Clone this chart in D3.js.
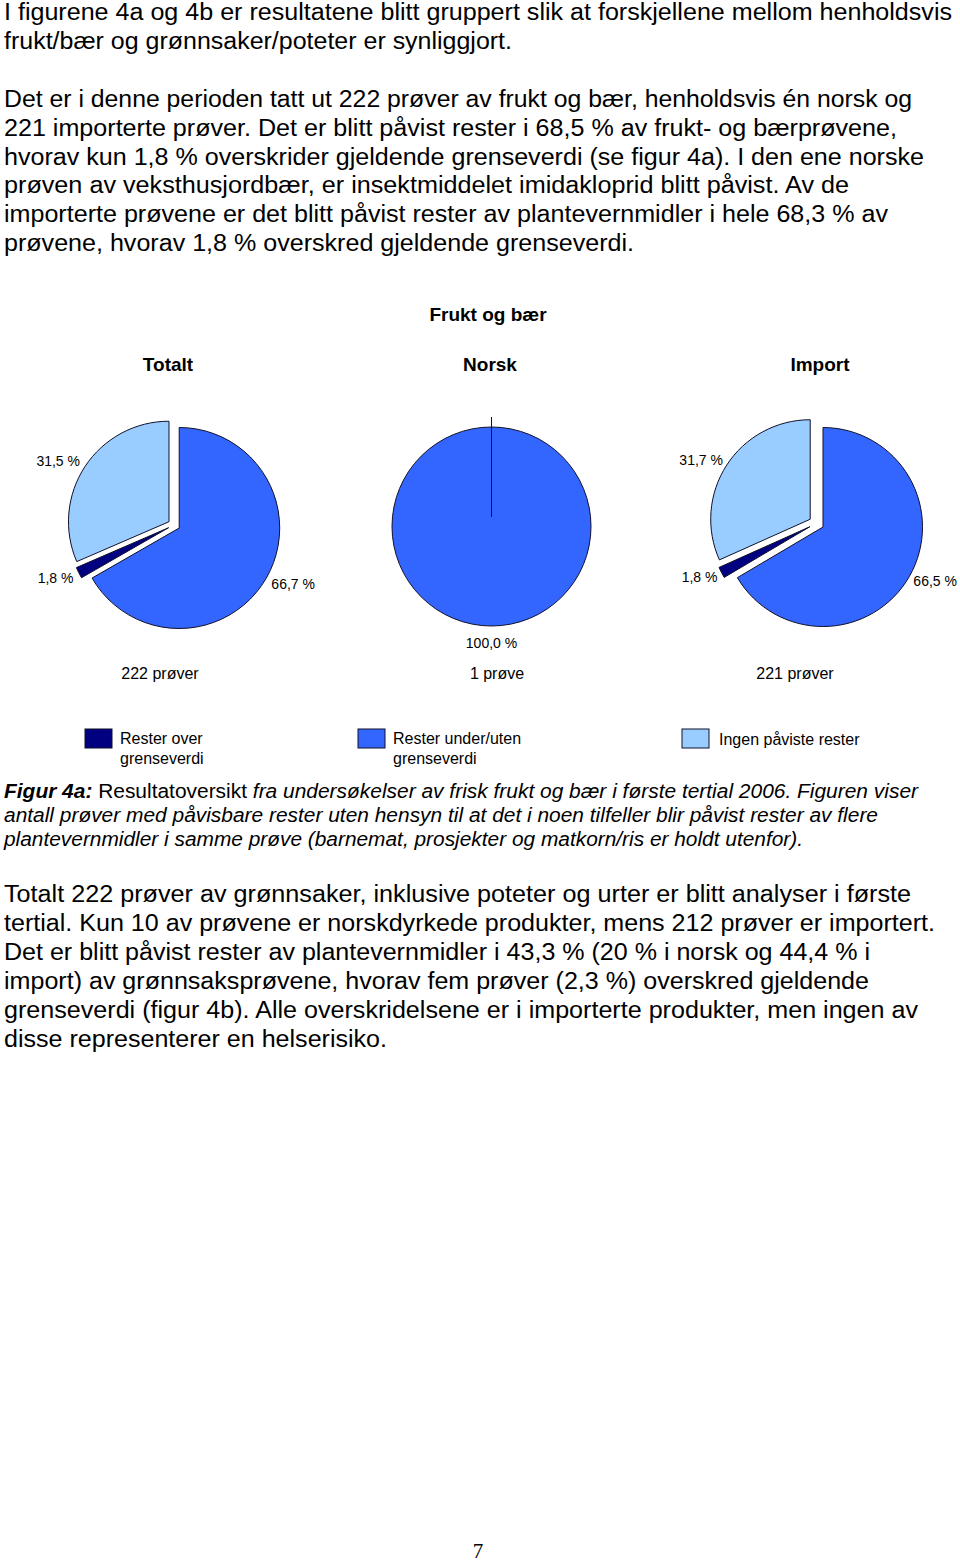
<!DOCTYPE html>
<html>
<head>
<meta charset="utf-8">
<script src="https://cdn.jsdelivr.net/npm/d3@7"></script>
<style>
  html, body { margin: 0; padding: 0; background: #fff; }
  svg { display: block; }
  text { font-family: Arial, "Liberation Sans", sans-serif; fill: #000; }
</style>
</head>
<body>
<script>
// ---------------- DATA ----------------
const categories = ["Rester over grenseverdi", "Rester under/uten grenseverdi", "Ingen påviste rester"];
const legendLines = [["Rester over", "grenseverdi"], ["Rester under/uten", "grenseverdi"], ["Ingen påviste rester"]];
const pieTitles = ["Totalt", "Norsk", "Import"];
const sampleLabels = ["222 prøver", "1 prøve", "221 prøver"];
const totaltValues = [1.8, 66.7, 31.5];
const norskValues = [0, 100, 0];
const importValues = [1.8, 66.5, 31.7];
const chartTitle = "Frukt og bær";

const paragraph1 = [
  "I figurene 4a og 4b er resultatene blitt gruppert slik at forskjellene mellom henholdsvis",
  "frukt/bær og grønnsaker/poteter er synliggjort."
];
const paragraph2 = [
  "Det er i denne perioden tatt ut 222 prøver av frukt og bær, henholdsvis én norsk og",
  "221 importerte prøver. Det er blitt påvist rester i 68,5 % av frukt- og bærprøvene,",
  "hvorav kun 1,8 % overskrider gjeldende grenseverdi (se figur 4a). I den ene norske",
  "prøven av veksthusjordbær, er insektmiddelet imidakloprid blitt påvist. Av de",
  "importerte prøvene er det blitt påvist rester av plantevernmidler i hele 68,3 % av",
  "prøvene, hvorav 1,8 % overskred gjeldende grenseverdi."
];
const captionLines = [
  [["Figur 4a:", "bi"], [" Resultatoversikt ", "n"], ["fra undersøkelser av frisk frukt og bær i første tertial 2006. Figuren viser", "i"]],
  [["antall prøver med påvisbare rester uten hensyn til at det i noen tilfeller blir påvist rester av flere", "i"]],
  [["plantevernmidler i samme prøve (barnemat, prosjekter og matkorn/ris er holdt utenfor).", "i"]]
];
const paragraph3 = [
  "Totalt 222 prøver av grønnsaker, inklusive poteter og urter er blitt analyser i første",
  "tertial. Kun 10 av prøvene er norskdyrkede produkter, mens 212 prøver er importert.",
  "Det er blitt påvist rester av plantevernmidler i 43,3 % (20 % i norsk og 44,4 % i",
  "import) av grønnsaksprøvene, hvorav fem prøver (2,3 %) overskred gjeldende",
  "grenseverdi (figur 4b). Alle overskridelsene er i importerte produkter, men ingen av",
  "disse representerer en helserisiko."
];
const pageNumber = "7";

// ---------------- LAYOUT ----------------
const W = 960, H = 1563;
const svg = d3.select("body").append("svg").attr("width", W).attr("height", H);
svg.append("rect").attr("width", W).attr("height", H).attr("fill", "#fff");

function textBlock(lines, x, y0, lh, size, widths) {
  lines.forEach((s, i) => {
    const t = svg.append("text").attr("x", x).attr("y", y0 + i * lh)
      .attr("font-size", size).text(s);
    if (widths && widths[i]) t.attr("textLength", widths[i]).attr("lengthAdjust", "spacingAndGlyphs");
  });
}

textBlock(paragraph1, 4, 20, 29, 23.5, [948, 508]);
textBlock(paragraph2, 4, 107, 28.8, 23.5, [908, 893, 920, 845, 884, 630]);
textBlock(paragraph3, 4, 902, 29, 23.5, [907, 931, 866, 865, 914, 383]);

// caption
const capWidths = [914, 874, 799];
captionLines.forEach((parts, i) => {
  const t = svg.append("text").attr("x", 4).attr("y", 798 + i * 24).attr("font-size", 19.5)
    .attr("textLength", capWidths[i]).attr("lengthAdjust", "spacingAndGlyphs");
  parts.forEach(([s, st]) => {
    t.append("tspan").text(s)
      .attr("font-weight", st === "bi" ? "bold" : "normal")
      .attr("font-style", st === "n" ? "normal" : "italic");
  });
});

// page number
svg.append("text").attr("x", 478).attr("y", 1558).attr("text-anchor", "middle")
  .attr("font-size", 21).style("font-family", "'Liberation Serif', 'DejaVu Serif', serif").text(pageNumber);

// ---------------- CHART ----------------
const color = d3.scaleOrdinal().domain(categories).range(["#000080", "#3366FF", "#99CCFF"]);
const drawRank = [1, 0, 2]; // clockwise drawing order from 12 o'clock
const locale = d3.formatLocale({decimal: ",", thousands: " ", grouping: [3], currency: ["", ""]});
const fmt = v => locale.format(".1f")(v) + " %";

svg.append("text").attr("x", 488).attr("y", 321).attr("text-anchor", "middle")
  .attr("font-size", 19).attr("font-weight", "bold").text(chartTitle);

const pies = [
  {values: totaltValues, cx: 174, cy: 525, r: 100.5, explode: 6, titleX: 168, sampleX: 160},
  {values: norskValues, cx: 491.5, cy: 526.5, r: 99.5, explode: 10, titleX: 490, sampleX: 497},
  {values: importValues, cx: 816.5, cy: 523.3, r: 99.5, explode: 7.5, titleX: 820, sampleX: 795}
];

const pieGen = d3.pie().value(d => d.v)
  .sort((a, b) => drawRank[a.i] - drawRank[b.i]);

pies.forEach((p, pi) => {
  svg.append("text").attr("x", p.titleX).attr("y", 371).attr("text-anchor", "middle")
    .attr("font-size", 19).attr("font-weight", "bold").text(pieTitles[pi]);
  svg.append("text").attr("x", p.sampleX).attr("y", 679).attr("text-anchor", "middle")
    .attr("font-size", 16).text(sampleLabels[pi]);

  const data = p.values.map((v, i) => ({v, i, cat: categories[i]}));
  const arcs = pieGen(data);
  const arc = d3.arc().innerRadius(0).outerRadius(p.r);
  const g = svg.append("g").attr("transform", `translate(${p.cx},${p.cy})`);

  const sorted = arcs.slice().sort((a, b) => (b.endAngle - b.startAngle) - (a.endAngle - a.startAngle));
  sorted.forEach(a => {
    const span = a.endAngle - a.startAngle;
    const mid = (a.startAngle + a.endAngle) / 2;
    const full = span > 2 * Math.PI - 1e-6;
    const dx = full ? 0 : Math.sin(mid) * p.explode;
    const dy = full ? 0 : -Math.cos(mid) * p.explode;
    g.append("path").attr("d", arc(a))
      .attr("transform", `translate(${dx},${dy})`)
      .attr("fill", color(a.data.cat))
      .attr("stroke", "#10102a").attr("stroke-width", 1)
      .attr("stroke-linejoin", "miter");
  });

  arcs.forEach(a => {
    if (a.data.v <= 0) return;
    const mid = (a.startAngle + a.endAngle) / 2;
    const sx = Math.sin(mid), sy = -Math.cos(mid);
    const L = p.r + 12;
    const x = sx * L, y = sy * L;
    const anchor = Math.abs(sx) < 0.2 ? "middle" : (sx > 0 ? "start" : "end");
    g.append("text").attr("x", x).attr("y", y + 5 + 5 * sy)
      .attr("text-anchor", anchor).attr("font-size", 14).text(fmt(a.data.v));
  });
});

// legend
const legendX = [85, 358, 682];
categories.forEach((c, i) => {
  svg.append("rect").attr("x", legendX[i]).attr("y", 729).attr("width", 27).attr("height", 19)
    .attr("fill", color(c)).attr("stroke", "#10102a").attr("stroke-width", 1);
  legendLines[i].forEach((s, j) => {
    svg.append("text").attr("x", legendX[i] + 35 + (i === 2 ? 2 : 0))
      .attr("y", (i === 2 ? 745 : 744) + j * 20).attr("font-size", 16).text(s);
  });
});
</script>
</body>
</html>
